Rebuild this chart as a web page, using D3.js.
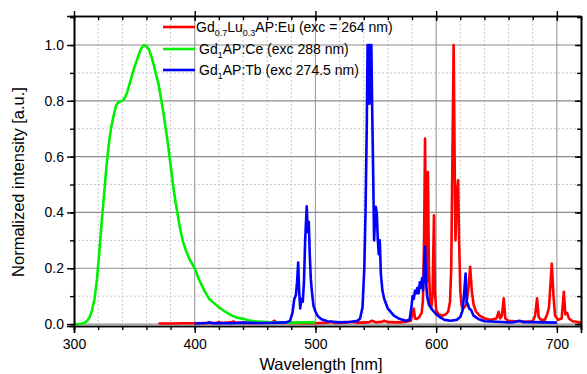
<!DOCTYPE html>
<html><head><meta charset="utf-8">
<script src="https://cdn.jsdelivr.net/npm/d3@7"></script>
<style>body{margin:0;background:#fff;} svg{display:block;font-family:"Liberation Sans",Arial,sans-serif;}</style>
</head><body><svg id="c" width="587" height="374"></svg>
<script>
// ---- data ----
const xTicks = [300, 400, 500, 600, 700];
const yTicks = [0.0, 0.2, 0.4, 0.6, 0.8, 1.0];
const seriesNames = ["Eu", "Ce", "Tb"];
const euData = [[370,0.002],[380,0.002],[390,0.003],[400,0.003],[410,0.004],[418,0.004],[420,0.007],[422,0.004],[430,0.006],[432,0.009],[434,0.005],[445,0.004],[455,0.004],[464,0.006],[466,0.012],[468,0.005],[480,0.004],[490,0.003],[500,0.003],[510,0.005],[513,0.008],[516,0.004],[525,0.005],[530,0.008],[535,0.005],[544,0.006],[547,0.012],[550,0.006],[555,0.008],[557,0.012],[560,0.007],[570,0.006],[575,0.008],[579,0.012],[580.5,0.04],[581.5,0.055],[582.5,0.02],[584,0.018],[586,0.025],[588,0.04],[589,0.08],[590,0.3],[590.8,0.665],[591.6,0.3],[592.2,0.15],[593.2,0.545],[594,0.2],[595,0.08],[596,0.06],[597,0.1],[598.2,0.39],[599,0.12],[600,0.05],[602,0.035],[605,0.03],[608,0.035],[610,0.045],[611.5,0.08],[612.5,0.2],[613.5,0.6],[614.5,1.0],[615.3,0.6],[616,0.3],[617,0.45],[618.2,0.515],[619,0.3],[620,0.12],[621,0.07],[622,0.055],[623.5,0.06],[625,0.07],[626.5,0.12],[628.2,0.205],[629.5,0.12],[631,0.07],[633,0.045],[636,0.03],[640,0.02],[645,0.015],[650,0.02],[651.8,0.044],[653,0.02],[654.5,0.03],[656,0.092],[657.3,0.02],[660,0.012],[665,0.01],[670,0.01],[675,0.008],[680,0.01],[682,0.03],[683.6,0.092],[685,0.025],[687,0.015],[690,0.015],[692,0.035],[693.5,0.06],[695.8,0.217],[697.2,0.1],[698.5,0.03],[701,0.015],[704,0.02],[705.8,0.116],[707,0.035],[708.5,0.04],[710,0.02],[713,0.01],[716,0.008],[720,0.005]];
const ceData = [[300,0],[303,0],[306,0.001],[309,0.005],[311,0.012],[313,0.025],[315,0.05],[317,0.09],[319,0.16],[321,0.26],[323,0.37],[325,0.47],[327,0.57],[329,0.65],[331,0.71],[333,0.75],[335,0.785],[337,0.795],[340,0.8],[342,0.81],[344,0.83],[346,0.86],[348,0.89],[350,0.92],[352,0.945],[354,0.97],[356,0.99],[358,1.0],[360,0.995],[362,0.985],[364,0.96],[366,0.93],[368,0.895],[370,0.86],[372,0.81],[374,0.76],[376,0.7],[378,0.64],[380,0.57],[382,0.5],[384,0.44],[386,0.39],[388,0.34],[390,0.3],[393,0.26],[396,0.23],[400,0.2],[404,0.155],[408,0.12],[412,0.09],[416,0.075],[420,0.06],[425,0.045],[430,0.032],[435,0.023],[440,0.019],[445,0.013],[450,0.01],[460,0.007],[470,0.006],[480,0.005],[490,0.006],[500,0.006]];
const tbData = [[400,0.002],[410,0.004],[412,0.006],[415,0.003],[425,0.004],[430,0.003],[440,0.005],[450,0.004],[460,0.004],[470,0.005],[476,0.006],[479,0.012],[481,0.04],[482.5,0.09],[483.8,0.104],[484.8,0.15],[485.7,0.22],[486.5,0.12],[487.4,0.056],[488.4,0.09],[489.5,0.08],[490.5,0.15],[491.5,0.3],[492.8,0.422],[493.6,0.33],[494.5,0.366],[495.3,0.25],[496.2,0.16],[497,0.12],[498.4,0.065],[500,0.045],[502,0.028],[505,0.017],[510,0.01],[520,0.006],[530,0.008],[535,0.012],[537,0.02],[539,0.06],[540.5,0.2],[541.5,0.4],[542.5,0.7],[543.2,1.0],[543.7,0.8],[544.2,1.0],[544.7,0.79],[545.2,1.0],[545.7,0.8],[546.3,1.0],[547,0.78],[547.8,0.55],[548.6,0.3],[549.3,0.37],[550,0.42],[550.8,0.4],[551.7,0.3],[552.5,0.25],[553.3,0.3],[554.2,0.18],[555.5,0.12],[557,0.09],[560,0.055],[565,0.03],[570,0.018],[575,0.012],[578,0.015],[579.5,0.06],[580.5,0.1],[581.5,0.09],[582.5,0.12],[583.5,0.11],[584.5,0.13],[585.5,0.11],[586.5,0.15],[587.5,0.13],[588.3,0.164],[589.2,0.12],[590,0.2],[590.8,0.277],[591.7,0.15],[592.5,0.1],[594,0.07],[596,0.055],[598,0.045],[600,0.035],[603,0.025],[607,0.015],[612,0.012],[617,0.015],[620,0.025],[622,0.05],[623,0.1],[624.4,0.181],[625.3,0.08],[626.3,0.07],[627.5,0.055],[629,0.05],[631,0.03],[635,0.018],[640,0.01],[650,0.008],[660,0.006],[665,0.007],[669,0.012],[672,0.007],[680,0.007],[690,0.006],[700,0.005]];

// ---- layout ----
const svg = d3.select("#c");
const L = 74, R = 581, T = 16, B = 326;
const x = d3.scaleLinear().domain([300, 720]).range([L, R]);
const y = d3.scaleLinear().domain([-0.007, 1.104]).range([B, T]);

const g = svg.append("g");
// minor dashed grid
const xMinor = d3.range(320, 720, 20).filter(v => v % 100 !== 0);
const yMinor = [0.1, 0.3, 0.5, 0.7, 0.9];
g.selectAll(".xm").data(xMinor).join("line")
  .attr("x1", d => x(d)).attr("x2", d => x(d)).attr("y1", T).attr("y2", B)
  .attr("stroke", "#c8c8c8").attr("stroke-width", 1).attr("stroke-dasharray", "2,2");
g.selectAll(".ym").data(yMinor).join("line")
  .attr("x1", L).attr("x2", R).attr("y1", d => y(d)).attr("y2", d => y(d))
  .attr("stroke", "#c8c8c8").attr("stroke-width", 1).attr("stroke-dasharray", "2,2");
// major grid
g.selectAll(".xM").data(xTicks.filter(v => v > 300)).join("line")
  .attr("x1", d => x(d)).attr("x2", d => x(d)).attr("y1", T).attr("y2", B)
  .attr("stroke", "#a0a0a0").attr("stroke-width", 1.2);
g.selectAll(".yM").data(yTicks).join("line")
  .attr("x1", L).attr("x2", R).attr("y1", d => y(d)).attr("y2", d => y(d))
  .attr("stroke", "#8c8c8c").attr("stroke-width", 1.2);

// curves
const line = d3.line().x(d => x(d[0])).y(d => y(d[1]));
const plot = svg.append("g");
plot.append("path").datum(euData).attr("d", line).attr("fill", "none").attr("stroke", "#ff0000").attr("stroke-width", 2.6).attr("stroke-linejoin", "round");
plot.append("path").datum(ceData).attr("d", line).attr("fill", "none").attr("stroke", "#00f000").attr("stroke-width", 2.6).attr("stroke-linejoin", "round");
plot.append("path").datum(tbData).attr("d", line).attr("fill", "none").attr("stroke", "#0000ff").attr("stroke-width", 2.6).attr("stroke-linejoin", "round");

// axes
const fs = "14px";
const xMinorAll = d3.range(300, 721, 20);
const yMinorAll = d3.range(0, 1.101, 0.1);
const axBottom = d3.axisBottom(x).tickValues(xTicks).tickSize(7).tickFormat(d3.format("d"));
const axBottomMinor = d3.axisBottom(x).tickValues(xMinorAll).tickSize(4).tickFormat("");
const axLeft = d3.axisLeft(y).tickValues(yTicks).tickSize(7).tickFormat(d3.format(".1f"));
const axLeftMinor = d3.axisLeft(y).tickValues(yMinorAll).tickSize(4).tickFormat("");
const axTop = d3.axisTop(x).tickValues(xTicks).tickSizeInner(-5).tickSizeOuter(0).tickFormat("");
const axTopMinor = d3.axisTop(x).tickValues(xMinorAll).tickSizeInner(-4).tickSizeOuter(0).tickFormat("");
const axRight = d3.axisRight(y).tickValues(yTicks).tickSizeInner(-6).tickSizeOuter(0).tickFormat("");
const axRightMinor = d3.axisRight(y).tickValues(yMinorAll).tickSizeInner(-4).tickSizeOuter(0).tickFormat("");

function styleAxis(sel) {
  sel.select(".domain").attr("stroke", "#000").attr("stroke-width", 1.6);
  sel.selectAll(".tick line").attr("stroke", "#000").attr("stroke-width", 1.4);
  sel.selectAll(".tick text").attr("fill", "#000").style("font-size", fs).style("font-family", "Liberation Sans, Arial, sans-serif");
}
svg.append("g").attr("transform", `translate(0,${B})`).call(axBottomMinor).call(styleAxis);
svg.append("g").attr("transform", `translate(0,${B})`).call(axBottom).call(styleAxis).selectAll(".tick text").attr("dy", "0.93em");
svg.append("g").attr("transform", `translate(${L},0)`).call(axLeftMinor).call(styleAxis);
svg.append("g").attr("transform", `translate(${L},0)`).call(axLeft).call(styleAxis).selectAll(".tick text").attr("x", -10);
svg.append("g").attr("transform", `translate(0,${T})`).call(axTopMinor).call(styleAxis);
const topG = svg.append("g").attr("transform", `translate(0,${T})`).call(axTop).call(styleAxis);
topG.selectAll(".tick line").attr("y1", -5).attr("y2", 5);
svg.append("g").attr("transform", `translate(${R},0)`).call(axRightMinor).call(styleAxis);
svg.append("g").attr("transform", `translate(${R},0)`).call(axRight).call(styleAxis);

// axis titles
svg.append("text").attr("x", 321).attr("y", 370).attr("text-anchor", "middle")
  .style("font-size", "16.5px").text("Wavelength [nm]");
svg.append("text").attr("transform", "translate(24,182) rotate(-90)").attr("text-anchor", "middle")
  .style("font-size", "16.5px").text("Normalized intensity [a.u.]");

// legend
const legColors = ["#ff0000", "#00f000", "#0000ff"];
const legY = [27, 49, 70];
const legText = [
  [["Gd", 0], ["0.7", 1], ["Lu", 0], ["0.3", 1], ["AP:Eu (exc = 264 nm)", 0]],
  [["Gd", 0], ["1", 1], ["AP:Ce (exc 288 nm)", 0]],
  [["Gd", 0], ["1", 1], ["AP:Tb (exc 274.5 nm)", 0]]
];
const legX = [196, 199, 199];
seriesNames.forEach((s, i) => {
  svg.append("line").attr("x1", 163).attr("x2", 195).attr("y1", legY[i]).attr("y2", legY[i])
    .attr("stroke", legColors[i]).attr("stroke-width", 2.6);
  const t = svg.append("text").attr("x", legX[i]).attr("y", legY[i] + 5).style("font-size", fs).attr("fill", "#000");
  let sub = false;
  legText[i].forEach(([str, isSub]) => {
    const ts = t.append("tspan").text(str);
    if (isSub && !sub) { ts.attr("dy", 4).style("font-size", "9px"); sub = true; }
    else if (isSub && sub) { ts.style("font-size", "9px"); }
    else if (!isSub && sub) { ts.attr("dy", -4); sub = false; }
  });
});
</script></body></html>
